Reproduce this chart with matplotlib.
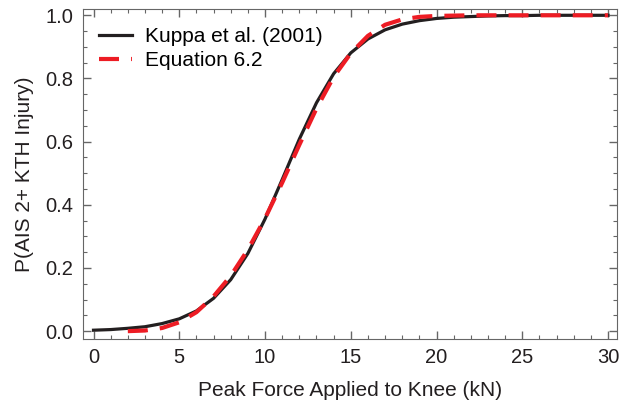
import matplotlib
matplotlib.use('Agg')
from matplotlib import pyplot as plt
from matplotlib.ticker import MultipleLocator

# values
force_kuppa = [0, 1, 2, 3, 4, 5, 6, 7, 8, 9, 10, 11, 12, 13, 14, 15,
               16, 17, 18, 19, 20, 21, 22, 23, 24, 25, 26, 27, 28, 29, 30]
p_kuppa = [0.003, 0.005, 0.009, 0.014, 0.024, 0.039, 0.064, 0.104, 0.163, 0.246,
           0.355, 0.480, 0.608, 0.723, 0.815, 0.881, 0.925, 0.954, 0.972, 0.983,
           0.990, 0.994, 0.996, 0.998, 0.999, 0.999, 1.0, 1.0, 1.0, 1.0, 1.0]

force_eq = [2, 3, 4, 5, 6, 7, 8, 9, 10, 11, 12, 13, 14, 15, 16, 17,
            18, 19, 20, 21, 22, 23, 24, 25, 26, 27, 28, 29, 30]
p_eq = [0.000, 0.002, 0.010, 0.028, 0.060, 0.110, 0.175, 0.258, 0.357, 0.470,
        0.590, 0.705, 0.805, 0.880, 0.935, 0.970, 0.987, 0.995, 0.998, 0.999,
        1.0, 1.0, 1.0, 1.0, 1.0, 1.0, 1.0, 1.0, 1.0]

plt.rcParams['font.family'] = ['Liberation Sans', 'DejaVu Sans']

fig = plt.figure(figsize=(6.21, 4.08), dpi=100)
ax = fig.add_axes([0.134, 0.169, 0.859, 0.809])

ax.plot(force_kuppa, p_kuppa, color='#231f20', linewidth=2.3, label='Kuppa et al. (2001)')
ax.plot(force_eq, p_eq, color='#ed1c24', linewidth=3, dashes=(4.8, 2.9),
        label='Equation 6.2')

ax.set_xlim(-0.6, 30.5)
ax.set_ylim(-0.025, 1.02)
ax.xaxis.set_major_locator(MultipleLocator(5))
ax.xaxis.set_minor_locator(MultipleLocator(1))
ax.yaxis.set_major_locator(MultipleLocator(0.2))
ax.yaxis.set_minor_locator(MultipleLocator(0.05))
ax.yaxis.set_major_formatter(matplotlib.ticker.FormatStrFormatter('%.1f'))

ax.tick_params(which='both', direction='in', top=True, right=True,
               color='#666666', labelsize=14.5, labelcolor='#231f20')
ax.tick_params(which='major', length=6, width=1)
ax.tick_params(which='minor', length=3, width=0.8)
ax.tick_params(axis='y', pad=7)
ax.tick_params(axis='x', pad=6.5)
for s in ax.spines.values():
    s.set_color('#666666')

ax.set_xlabel('Peak Force Applied to Knee (kN)', fontsize=15, color='#231f20', labelpad=10)
ax.set_ylabel('P(AIS 2+ KTH Injury)', fontsize=15, color='#231f20', labelpad=8)

ax.legend(loc='upper left', bbox_to_anchor=(0.03, 0.945), frameon=False, fontsize=15,
          handlelength=1.55, borderaxespad=0, borderpad=0, labelspacing=0.25,
          handletextpad=0.65)

plt.savefig('out.png', dpi=100)
plt.close()
